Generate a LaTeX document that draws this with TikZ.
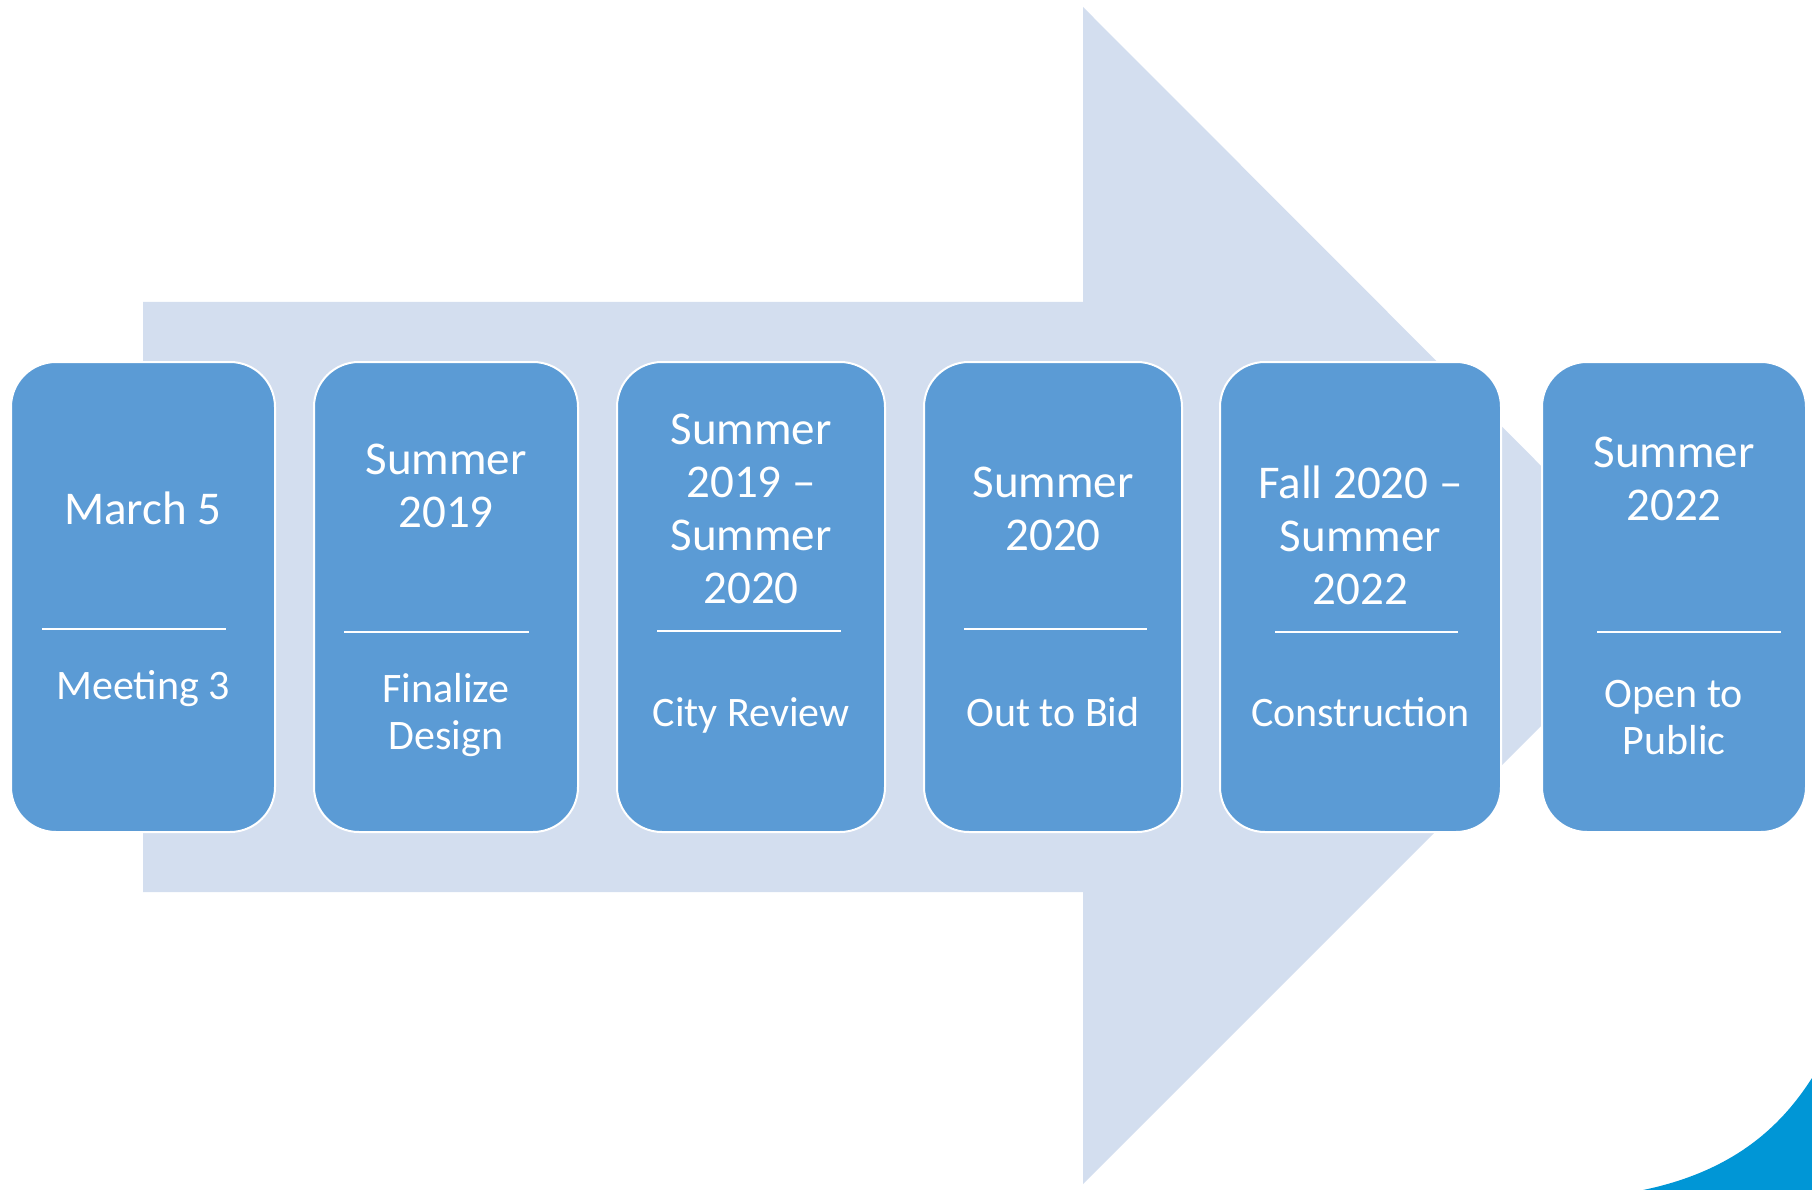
\documentclass[tikz,border=0pt]{standalone}
\usepackage{fontspec}
\setmainfont{Carlito}

\definecolor{arrowgrey}{RGB}{211,222,239}
\definecolor{stageblue}{RGB}{91,155,213}
\definecolor{swooshblue}{RGB}{0,150,214}

\begin{document}
\begin{tikzpicture}[
    x=1pt, y=-1pt,
    stage/.style={rectangle, rounded corners=45pt, draw=white, line width=2pt, fill=stageblue, minimum height=470pt},
    when/.style={text=white, align=center, text depth=0pt, font=\fontsize{47}{53}\selectfont},
    what/.style={text=white, align=center, text depth=0pt, font=\fontsize{42}{47}\selectfont},
    rule/.style={draw=white, line width=2pt}
]
\useasboundingbox (0,0) rectangle (1812,1190);

% Background arrow
\fill[arrowgrey] (143,302) -- (1083,302) -- (1083,7) -- (1671,596)
    -- (1083,1184) -- (1083,892) -- (143,892) -- cycle;

% Corner swoosh
\fill[swooshblue] (1643,1190) .. controls (1740,1170) and (1785,1120) .. (1812,1078)
    -- (1812,1190) -- cycle;

% Stages
\node[stage, minimum width=264pt] (meeting) at (143,597) {};
\node[stage, minimum width=264pt] (design) at (446,597) {};
\node[stage, minimum width=268pt] (review) at (751,597) {};
\node[stage, minimum width=258pt] (bid) at (1053,597) {};
\node[stage, minimum width=281pt] (build) at (1360.5,597) {};
\node[stage, minimum width=264pt] (open) at (1674,597) {};

% Dates
\node[when] (meetingdate) at (143,508) {March 5};
\node[when] (designdate) at (446,486) {Summer\\2019};
\node[when] (reviewdate) at (751,509) {Summer\\2019 –\\Summer\\2020};
\node[when] (biddate) at (1053,509) {Summer\\2020};
\node[when] (builddate) at (1360.5,535) {Fall 2020 –\\Summer\\2022};
\node[when] (opendate) at (1674,479) {Summer\\2022};

% Dividers
\draw[rule] (42,629) -- (226,629);
\draw[rule] (344,632) -- (529,632);
\draw[rule] (657,631) -- (841,631);
\draw[rule] (964,629) -- (1147,629);
\draw[rule] (1275,632) -- (1458,632);
\draw[rule] (1597,632) -- (1781,632);

% Tasks
\node[what] (meetingtask) at (143,685) {Meeting 3};
\node[what] (designtask) at (446,711) {Finalize\\Design};
\node[what] (reviewtask) at (751,712) {City Review};
\node[what] (bidtask) at (1053,712) {Out to Bid};
\node[what] (buildtask) at (1360.5,712) {Construction};
\node[what] (opentask) at (1674,717) {Open to\\Public};

\end{tikzpicture}
\end{document}
